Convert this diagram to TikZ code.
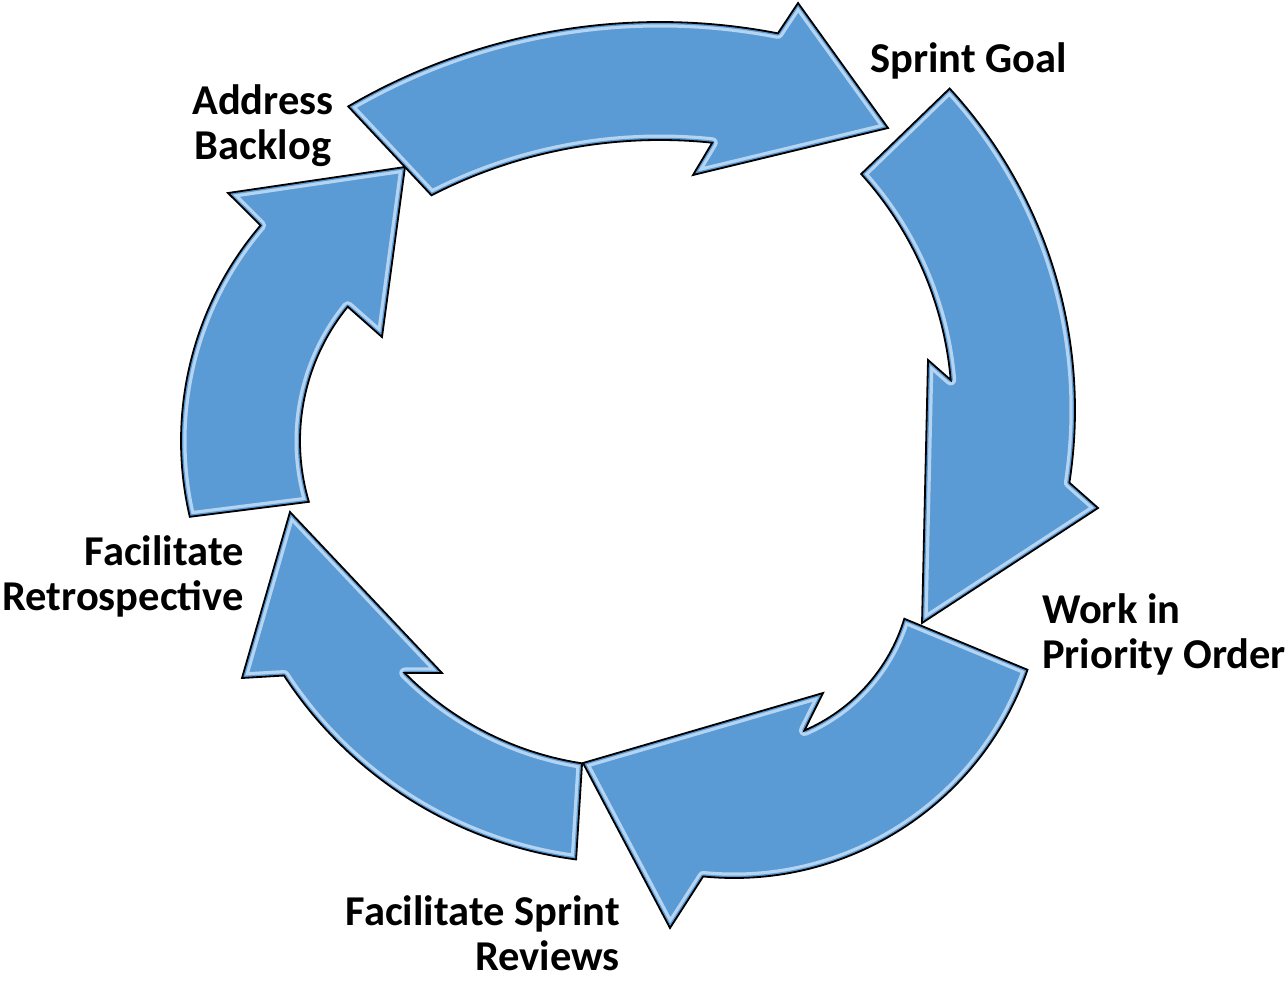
\documentclass[tikz,border=0pt]{standalone}
\usepackage{fontspec}
\setmainfont{Carlito}
\definecolor{arrowblue}{HTML}{5B9BD5}
\definecolor{arrowrim}{HTML}{B4D4F2}
\tikzset{
  arrowline/.style={draw=black, line width=1.8pt, line join=miter},
  steplabel/.style={font=\bfseries\fontsize{42.5}{45}\selectfont, inner sep=0pt, text=black}
}
% one bevelled arrow of the cycle
\newcommand{\cyclearrow}[1]{%
  \fill[arrowblue] #1;
  \begin{scope}
    \clip #1;
    \draw[arrowrim, line width=11pt, line join=round] #1;
    \draw[arrowblue, line width=4.5pt, line join=round] #1;
  \end{scope}
  \draw[arrowline] #1;
}
\begin{document}
\begin{tikzpicture}[x=1pt, y=-1pt]
    \useasboundingbox (0, 0) rectangle (1285, 980);
    % centres of the five arcs
    \coordinate (cl) at (513, 441);
    \coordinate (cbl) at (630, 450);
    \coordinate (cbr) at (734, 567);
    \coordinate (cr) at (600, 410);
    \coordinate (ct) at (660, 640);
    % left arrow, up to the backlog
    \cyclearrow{([shift={(cl)}]166.8:332) arc[start angle=166.8, end angle=220.5, radius=332]
        -- (228, 193) -- (405, 167) -- (382, 337)
        -- ([shift={(cl)}]219.1:213) arc[start angle=219.1, end angle=163.4, radius=213] -- cycle}
    % bottom left arrow
    \cyclearrow{([shift={(cbl)}]97.5:413) arc[start angle=97.5, end angle=146.9, radius=413]
        -- (242, 678) -- (290, 512) -- (442, 673)
        -- ([shift={(cbl)}]135.3:317) arc[start angle=135.3, end angle=98.7, radius=317] -- cycle}
    % bottom right arrow
    \cyclearrow{([shift={(cbr)}]19.3:311) arc[start angle=19.3, end angle=95.7, radius=311]
        -- (670, 928) -- (583, 763) -- (823, 693)
        -- ([shift={(cbr)}]66.7:178) arc[start angle=66.7, end angle=16.9, radius=178] -- cycle}
    % right arrow
    \cyclearrow{([shift={(cr)}]-42.6:475) arc[start angle=-42.6, end angle=8.8, radius=475]
        -- (1098, 508) -- (922, 623) -- (928, 360)
        -- ([shift={(cr)}]-4.9:352) arc[start angle=-4.9, end angle=-42.1, radius=352] -- cycle}
    % top arrow
    \cyclearrow{([shift={(ct)}]-120.3:618) arc[start angle=-120.3, end angle=-79, radius=618]
        -- (798, 3) -- (888, 128) -- (693, 175)
        -- ([shift={(ct)}]-84:500) arc[start angle=-84, end angle=-117.2, radius=500] -- cycle}

    \node[steplabel, align=center, anchor=base] (backlog) at (263, 159) {Address\\Backlog};
    \node[steplabel, anchor=base west] (goal) at (870, 72) {Sprint Goal};
    \node[steplabel, align=left, anchor=base west] (priority) at (1042, 668) {Work in\\Priority Order};
    \node[steplabel, align=right, anchor=base east] (reviews) at (620, 970) {Facilitate Sprint\\Reviews};
    \node[steplabel, align=right, anchor=base east] (retro) at (244, 610) {Facilitate\\Retrospective};
\end{tikzpicture}
\end{document}
